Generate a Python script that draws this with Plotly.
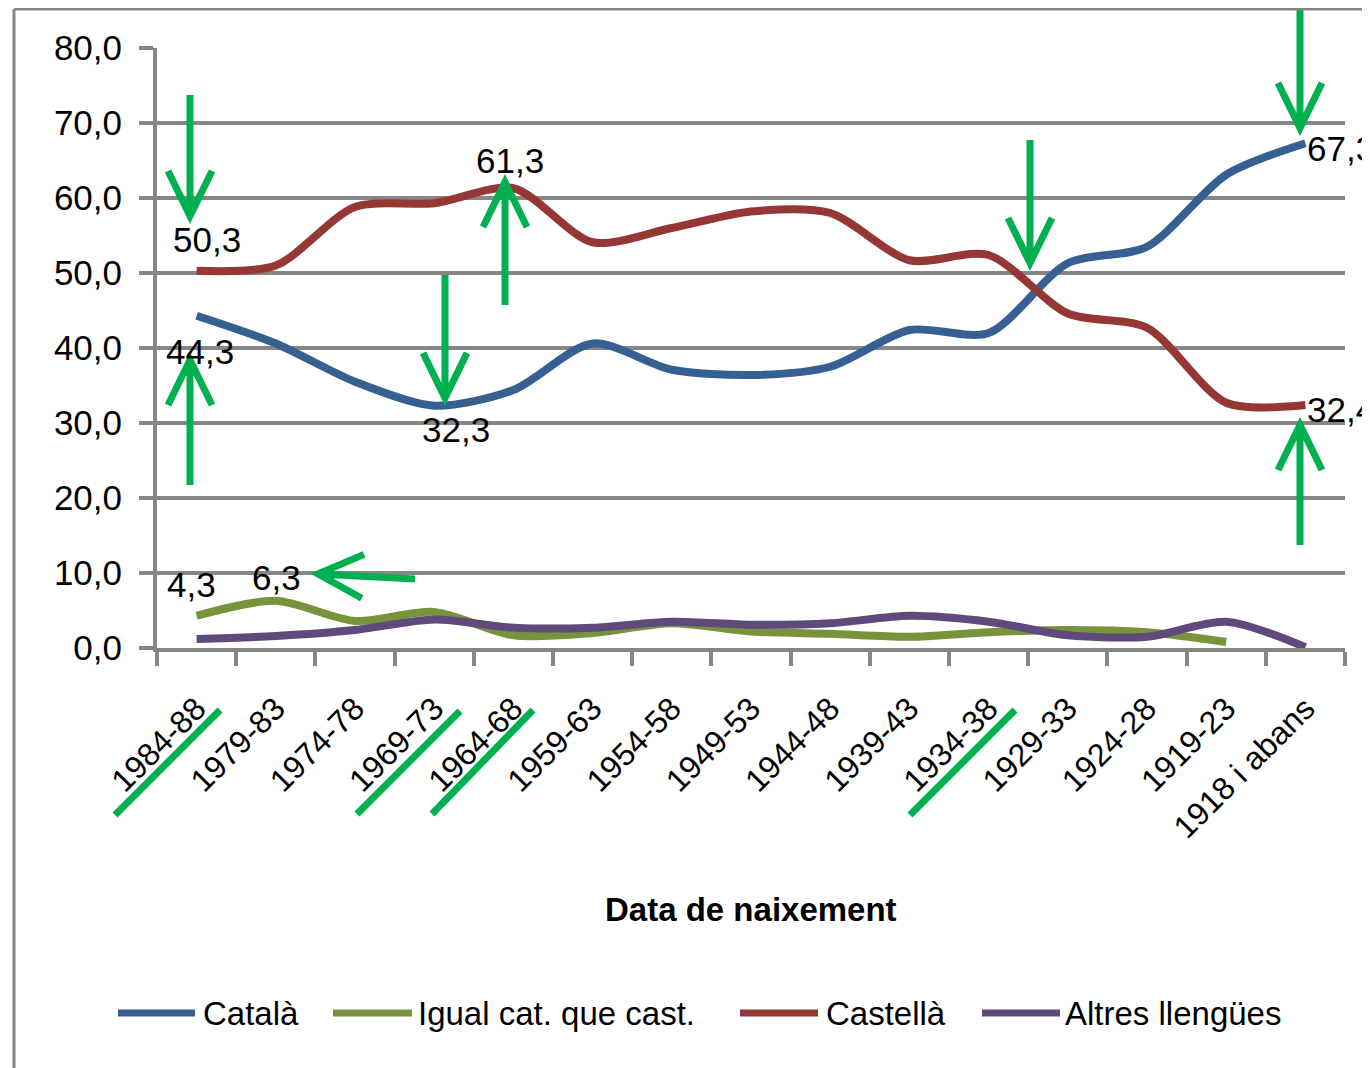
import math
import plotly.graph_objects as go

# ---------------- data ----------------
categories = ["1984-88", "1979-83", "1974-78", "1969-73", "1964-68", "1959-63",
              "1954-58", "1949-53", "1944-48", "1939-43", "1934-38", "1929-33",
              "1924-28", "1919-23", "1918 i abans"]
series_names = ["Català", "Igual cat. que cast.", "Castellà", "Altres llengües"]
catala = [44.3, 40.6, 35.5, 32.3, 34.4, 40.6, 37.1, 36.4, 37.5, 42.4, 42.0, 51.3, 53.5, 63.1, 67.3]
igual = [4.3, 6.3, 3.6, 4.8, 1.7, 2.0, 3.3, 2.2, 1.9, 1.5, 2.1, 2.4, 2.1, 0.8, None]
castella = [50.3, 51.0, 58.8, 59.3, 61.3, 54.1, 56.0, 58.2, 58.0, 51.7, 52.4, 44.6, 42.7, 32.7, 32.4]
altres = [1.2, 1.6, 2.4, 3.8, 2.7, 2.7, 3.5, 3.1, 3.3, 4.3, 3.5, 1.7, 1.5, 3.5, 0.1]
y_ticks = [0, 10, 20, 30, 40, 50, 60, 70, 80]

colors = ["#376092", "#77933C", "#953735", "#604A7B"]
GRID = "#868686"
ARROW = "#00B050"
FONT = "Liberation Sans, Arial, sans-serif"

# ---------------- layout geometry ----------------
# the page body adds an 8px offset; design in screen pixels and convert
OFF = 8
W, H = 1370 - OFF, 1068 - OFF
PLOT_L, PLOT_R, PLOT_T, PLOT_B = 157, 1345, 48, 648   # screen pixels
L = PLOT_L - OFF
T = PLOT_T - OFF
R = W - (PLOT_R - OFF)
B = H - (PLOT_B - OFF)
PW, PH = PLOT_R - PLOT_L, PLOT_B - PLOT_T


def px(x, y):
    """screen pixel -> paper coordinates"""
    return (x - PLOT_L) / PW, (PLOT_B - y) / PH


x_idx = list(range(len(categories)))
fig = go.Figure()
all_series = [catala, igual, castella, altres]
for name, vals, col in zip(series_names, all_series, colors):
    fig.add_trace(go.Scatter(x=x_idx, y=vals, mode="lines", name=name,
                             line=dict(color=col, width=8, shape="spline", smoothing=0.8),
                             showlegend=False))

# ---------------- data labels ----------------
def fmt(v):
    return f"{v:.1f}".replace(".", ",")

labels = [  # (series, index, xshift, yshift, xanchor)
    (castella, 0, 10, 31, "center"),
    (catala, 0, 3, -36, "center"),
    (catala, 3, 22, -24, "center"),
    (castella, 4, -3, 28, "center"),
    (igual, 0, -5, 31, "center"),
    (igual, 1, 1, 23, "center"),
    (catala, 14, 0, -5, "left"),
    (castella, 14, 0, -4, "left"),
]
for s, i, xs, ys, xa in labels:
    fig.add_annotation(x=i, y=s[i], xref="x", yref="y", text=fmt(s[i]), showarrow=False,
                       xanchor=xa, yanchor="middle", xshift=xs, yshift=ys,
                       font=dict(family=FONT, size=35, color="black"))

shapes = []

# ---------------- green arrows (decorations) ----------------
def arrow(x0, y0, x1, y1, head=45, half=22):
    dx, dy = x1 - x0, y1 - y0
    n = math.hypot(dx, dy)
    ux, uy = dx / n, dy / n
    bx, by = x1 - ux * head, y1 - uy * head
    ax1, ay1 = bx - uy * half, by + ux * half
    ax2, ay2 = bx + uy * half, by - ux * half
    p = [px(x0, y0), px(x1, y1), px(ax1, ay1), px(ax2, ay2)]
    path = (f"M{p[0][0]},{p[0][1]} L{p[1][0]},{p[1][1]} "
            f"M{p[2][0]},{p[2][1]} L{p[1][0]},{p[1][1]} L{p[3][0]},{p[3][1]}")
    shapes.append(dict(type="path", path=path, xref="paper", yref="paper",
                       line=dict(color=ARROW, width=7), layer="above"))

arrow(190, 95, 190, 216)
arrow(190, 485, 190, 360)
arrow(445, 275, 445, 398)
arrow(505, 305, 505, 182)
arrow(415, 579, 318, 574)
arrow(1030, 140, 1030, 263)
arrow(1300, 5, 1300, 128)
arrow(1300, 545, 1300, 425)

# green underline strokes under some tick labels
for (xa, ya, xb, yb) in [(115, 815, 220, 710), (357, 814, 460, 711),
                         (432, 814, 533, 710), (910, 815, 1015, 710)]:
    p0, p1 = px(xa, ya), px(xb, yb)
    shapes.append(dict(type="line", xref="paper", yref="paper", x0=p0[0], y0=p0[1],
                       x1=p1[0], y1=p1[1], line=dict(color=ARROW, width=7)))

# outer chart border (left & top)
b0, b1, b2 = px(14, 9), px(14, 1068), px(1370, 9)
shapes.append(dict(type="line", xref="paper", yref="paper", x0=b0[0], y0=b0[1], x1=b1[0], y1=b1[1],
                   line=dict(color=GRID, width=3)))
shapes.append(dict(type="line", xref="paper", yref="paper", x0=b0[0], y0=b0[1], x1=b2[0], y1=b2[1],
                   line=dict(color=GRID, width=3)))

# ---------------- custom legend ----------------
legend_items = [(118, 195, 201), (333, 412, 416), (740, 818, 824), (982, 1060, 1063)]
ly = 1013
for (a, b, t), name, col in zip(legend_items, series_names, colors):
    p0, p1 = px(a, ly), px(b, ly)
    shapes.append(dict(type="line", xref="paper", yref="paper", x0=p0[0], y0=p0[1], x1=p1[0], y1=p1[1],
                       line=dict(color=col, width=7)))
    pt = px(t, ly)
    fig.add_annotation(x=pt[0], y=pt[1], xref="paper", yref="paper", text=name, showarrow=False,
                       xanchor="left", yanchor="middle",
                       font=dict(family=FONT, size=33, color="black"))

# x axis title
pt = px(751, 910)
fig.add_annotation(x=pt[0], y=pt[1], xref="paper", yref="paper", text="<b>Data de naixement</b>",
                   showarrow=False, xanchor="center", yanchor="middle",
                   font=dict(family=FONT, size=33, color="black"))

fig.update_layout(
    width=W, height=H,
    margin=dict(l=L, r=R, t=T, b=B),
    paper_bgcolor="white", plot_bgcolor="white",
    separators=", ",
    shapes=shapes,
    showlegend=False,
    font=dict(family=FONT, color="black"),
)
fig.update_xaxes(
    range=[-0.5, len(categories) - 0.5],
    tickmode="array", tickvals=x_idx, ticktext=categories,
    ticks="", tickangle=-45, ticklabelstandoff=25,
    tickfont=dict(family=FONT, size=32, color="black"),
    showline=True, linecolor=GRID, linewidth=4,
    showgrid=False, zeroline=False,
    minor=dict(tickmode="array", tickvals=[i - 0.5 for i in range(len(categories) + 1)],
               ticks="outside", ticklen=14, tickwidth=4, tickcolor=GRID, showgrid=False),
)
fig.update_yaxes(
    range=[0, 80], tickmode="array", tickvals=y_ticks, tickformat=".1f",
    ticks="outside", ticklen=14, tickwidth=4, tickcolor=GRID, ticklabelstandoff=10,
    tickfont=dict(family=FONT, size=35, color="black"),
    showline=True, linecolor=GRID, linewidth=4,
    showgrid=True, gridcolor=GRID, gridwidth=4, zeroline=False,
)

fig.write_html("out.html")
